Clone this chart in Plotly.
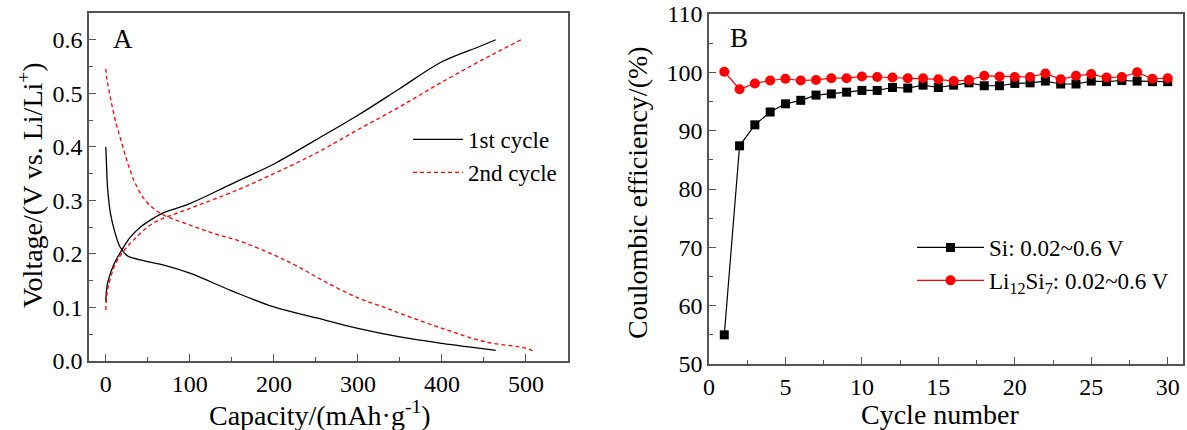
import plotly.graph_objects as go

# ---------------- Panel A data (capacity in mAh/g, voltage in V) ----------------
cap1_dis = [0, 1, 2, 5.5, 10, 17, 26, 33, 51, 69, 100, 150, 200, 252, 300, 350, 400, 464]
v1_dis = [0.400, 0.360, 0.325, 0.276, 0.245, 0.213, 0.196, 0.192, 0.185, 0.179, 0.164, 0.131,
          0.101, 0.080, 0.061, 0.045, 0.033, 0.020]
cap1_chg = [0, 1, 3, 10, 19, 28, 42, 56, 69, 100, 150, 200, 250, 300, 350, 400, 444, 464]
v1_chg = [0.111, 0.135, 0.151, 0.182, 0.207, 0.229, 0.251, 0.266, 0.277, 0.294, 0.331, 0.368,
          0.413, 0.459, 0.509, 0.559, 0.587, 0.600]
cap2_dis = [0, 1, 3, 7, 12, 17, 24, 29, 35, 47, 65, 100, 129, 161, 200, 229, 261, 300, 330,
            350, 400, 451, 500, 508]
v2_dis = [0.546, 0.530, 0.512, 0.480, 0.445, 0.418, 0.380, 0.356, 0.332, 0.300, 0.276, 0.254,
          0.238, 0.223, 0.198, 0.176, 0.148, 0.118, 0.101, 0.089, 0.061, 0.036, 0.024, 0.019]
cap2_chg = [0, 1, 3, 10, 19, 33, 56, 100, 150, 200, 250, 300, 350, 400, 451, 467, 494]
v2_chg = [0.095, 0.120, 0.139, 0.176, 0.201, 0.226, 0.257, 0.285, 0.315, 0.350, 0.388, 0.432,
          0.475, 0.521, 0.565, 0.578, 0.600]

# ---------------- Panel B data ----------------
cycles = list(range(1, 31))
ce_si = [55.0, 87.4, 91.0, 93.2, 94.6, 95.2, 96.1, 96.3, 96.6, 96.9, 96.9, 97.4, 97.3, 97.8,
         97.4, 97.8, 98.2, 97.7, 97.7, 98.1, 98.2, 98.5, 98.0, 98.0, 98.5, 98.4, 98.6, 98.5,
         98.4, 98.4]
ce_li = [100.1, 97.1, 98.1, 98.6, 98.9, 98.6, 98.7, 99.0, 99.0, 99.3, 99.2, 99.1, 99.0, 99.0,
         98.8, 98.5, 98.7, 99.4, 99.3, 99.2, 99.2, 99.8, 98.8, 99.4, 99.7, 99.1, 99.2, 100.0,
         98.9, 99.0]

W, H = 1187, 430
FONT = "Liberation Serif"
AXC = "#555555"
TICKFONT = dict(family=FONT, size=24, color="black")


def px(x):
    return x / W


def py(y):
    return 1 - y / H


fig = go.Figure()

# Panel A traces
fig.add_trace(go.Scatter(x=cap1_dis, y=v1_dis, mode="lines", name="1st cycle",
                         line=dict(color="black", width=1.3, shape="spline"),
                         legendgroup="c1", legend="legend", xaxis="x", yaxis="y"))
fig.add_trace(go.Scatter(x=cap1_chg, y=v1_chg, mode="lines", name="1st cycle",
                         line=dict(color="black", width=1.3, shape="spline"),
                         legendgroup="c1", showlegend=False, xaxis="x", yaxis="y"))
fig.add_trace(go.Scatter(x=cap2_dis, y=v2_dis, mode="lines", name="2nd cycle",
                         line=dict(color="#ff0000", width=1.3, dash="4px,3px", shape="spline"),
                         legendgroup="c2", legend="legend", xaxis="x", yaxis="y"))
fig.add_trace(go.Scatter(x=cap2_chg, y=v2_chg, mode="lines", name="2nd cycle",
                         line=dict(color="#ff0000", width=1.3, dash="4px,3px", shape="spline"),
                         legendgroup="c2", showlegend=False, xaxis="x", yaxis="y"))

# Panel B traces
fig.add_trace(go.Scatter(x=cycles, y=ce_si, mode="lines+markers", name="Si: 0.02~0.6 V",
                         line=dict(color="black", width=1.2),
                         marker=dict(symbol="square", size=9, color="black"),
                         legend="legend2", xaxis="x2", yaxis="y2"))
fig.add_trace(go.Scatter(x=cycles, y=ce_li, mode="lines+markers",
                         name="Li<sub>12</sub>Si<sub>7</sub>: 0.02~0.6 V",
                         line=dict(color="#ff0000", width=1.2),
                         marker=dict(symbol="circle", size=10, color="#ff0000"),
                         legend="legend2", xaxis="x2", yaxis="y2"))


def minor(d, t0):
    return dict(dtick=d, tick0=t0, ticks="inside", ticklen=4, tickwidth=1.3, tickcolor=AXC,
                showgrid=False)


common = dict(showline=True, mirror=True, linecolor=AXC, linewidth=1.5,
              showgrid=False, zeroline=False, ticks="inside", ticklen=7,
              tickwidth=1.3, tickcolor=AXC, tickfont=TICKFONT, automargin=False)

fig.update_layout(
    template="none",
    width=W, height=H,
    margin=dict(l=0, r=0, t=0, b=0, pad=0),
    paper_bgcolor="white", plot_bgcolor="white",
    font=dict(family=FONT, size=24, color="black"),
    xaxis=dict(domain=[px(89), px(568)], range=[-20, 550], dtick=100, tick0=0,
               minor=minor(50, 0), anchor="y", **common),
    yaxis=dict(domain=[py(361), py(13)], range=[0, 0.65], dtick=0.1, tick0=0,
               tickformat=".1f", minor=minor(0.05, 0), anchor="x", **common),
    xaxis2=dict(domain=[px(709), px(1183)], range=[0, 31], dtick=5, tick0=0,
                minor=minor(2.5, 0), anchor="y2", **common),
    yaxis2=dict(domain=[py(364), py(14)], range=[50, 110], dtick=10, tick0=50,
                minor=minor(5, 50), anchor="x2", **common),
    legend=dict(x=px(408), y=py(118), xanchor="left", yanchor="top",
                bgcolor="rgba(0,0,0,0)", borderwidth=0,
                font=dict(family=FONT, size=23, color="black"),
                itemwidth=50, tracegroupgap=0),
    legend2=dict(x=px(912), y=py(226), xanchor="left", yanchor="top",
                 bgcolor="rgba(0,0,0,0)", borderwidth=0,
                 font=dict(family=FONT, size=23, color="black"),
                 itemwidth=67, tracegroupgap=0),
    showlegend=True,
)

ann = [
    dict(text="A", x=px(111), y=py(39), xanchor="left", yanchor="middle", font_size=27),
    dict(text="B", x=px(728), y=py(38), xanchor="left", yanchor="middle", font_size=27),
    dict(text="Voltage/(V vs. Li/Li<sup>+</sup>)", x=px(30), y=py(185), textangle=-90,
         xanchor="center", yanchor="middle", font_size=28),
    dict(text="Capacity/(mAh·g<sup>-1</sup>)", x=px(320), y=py(413),
         xanchor="center", yanchor="middle", font_size=28),
    dict(text="Coulombic efficiency/(%)", x=px(637), y=py(193), textangle=-90,
         xanchor="center", yanchor="middle", font_size=28),
    dict(text="Cycle number", x=px(940), y=py(414),
         xanchor="center", yanchor="middle", font_size=28),
]
for a in ann:
    fs = a.pop("font_size")
    fig.add_annotation(xref="paper", yref="paper", showarrow=False,
                       font=dict(family=FONT, size=fs, color="black"), **a)

fig.write_html("out.html")
